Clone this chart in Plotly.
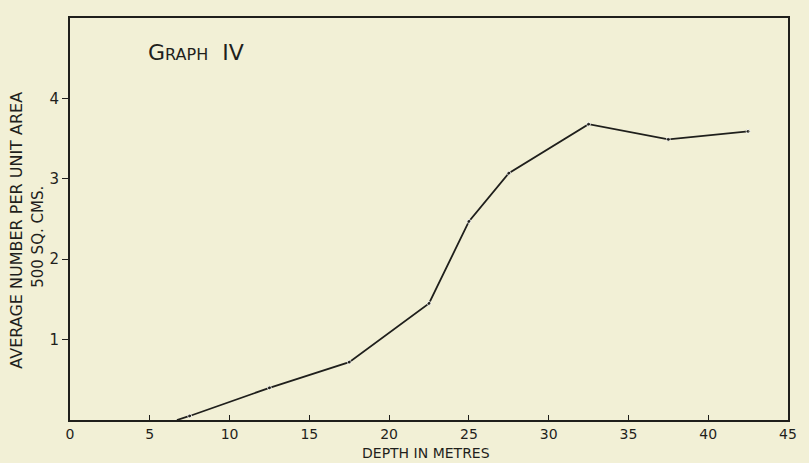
import plotly.graph_objects as go

depth = [6.7, 7.5, 12.5, 17.5, 22.5, 25.0, 27.5, 32.5, 37.5, 42.5]
avg_number = [0.0, 0.05, 0.40, 0.72, 1.45, 2.47, 3.07, 3.68, 3.49, 3.59]

x_ticks = [0, 5, 10, 15, 20, 25, 30, 35, 40, 45]
y_ticks = [1, 2, 3, 4]

paper = "#f2f0d6"
ink = "#1f1f1c"
font = "DejaVu Sans"

fig = go.Figure()
fig.add_trace(go.Scatter(
    x=depth, y=avg_number, mode="lines+markers",
    line=dict(color=ink, width=1.8),
    marker=dict(color=ink, size=[0, 4, 4, 4, 4, 4, 4, 4, 4, 4]),
    showlegend=False, hoverinfo="x+y",
))

fig.update_layout(
    width=809, height=463,
    margin=dict(l=70, r=13, t=18, b=43),
    paper_bgcolor=paper, plot_bgcolor=paper,
    font=dict(family=font, color=ink, size=14),
    xaxis=dict(
        range=[0, 45], tickvals=x_ticks, ticktext=[str(v) for v in x_ticks],
        showgrid=False, zeroline=False, showline=True, linecolor=ink, linewidth=2,
        mirror=True, ticks="inside", ticklen=5, tickcolor=ink,
        tickfont=dict(size=14, family=font, color=ink),
    ),
    yaxis=dict(
        range=[0, 5], tickvals=y_ticks, ticktext=[str(v) for v in y_ticks],
        showgrid=False, zeroline=False, showline=True, linecolor=ink, linewidth=2,
        mirror=True, ticks="outside", ticklen=6, tickcolor=ink,
        tickfont=dict(size=15, family=font, color=ink),
    ),
)

# Axis titles (as annotations for precise placement)
fig.add_annotation(
    x=0.496, y=-0.081, xref="paper", yref="paper", xanchor="center", yanchor="middle",
    text="DEPTH IN METRES", showarrow=False, font=dict(size=14, family=font, color=ink),
)
fig.add_annotation(
    x=-0.074, y=0.473, xref="paper", yref="paper", xanchor="center", yanchor="middle",
    text="AVERAGE NUMBER PER UNIT AREA", textangle=-90, showarrow=False,
    font=dict(size=16, family=font, color=ink),
)
fig.add_annotation(
    x=-0.045, y=0.455, xref="paper", yref="paper", xanchor="center", yanchor="middle",
    text="500 SQ. CMS.", textangle=-90, showarrow=False,
    font=dict(size=15, family=font, color=ink),
)

fig.add_annotation(
    x=0.106, y=0.915, xref="paper", yref="paper", xanchor="left", yanchor="middle",
    text="G<span style='font-size:16px'>RAPH</span>  <span style='font-size:22px'>IV</span>",
    showarrow=False, font=dict(size=22, family=font, color=ink),
)

fig.write_html(
    "out.html",
    config={"displayModeBar": False},
    post_script="document.body.style.margin='0';document.body.style.background='" + paper + "';",
)
